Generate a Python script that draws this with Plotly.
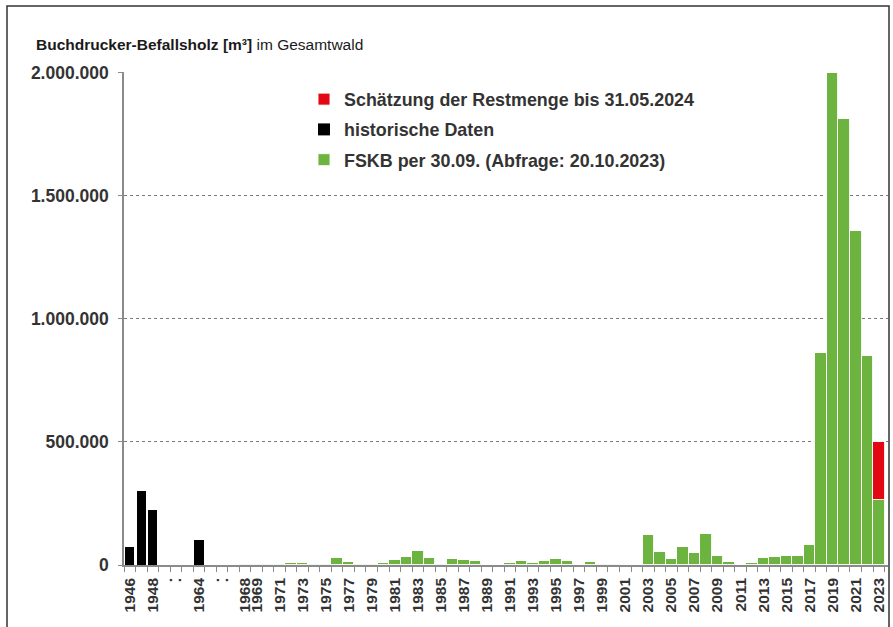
import plotly.graph_objects as go

# ---- data -------------------------------------------------------------
slot_labels = ["1946", "1947", "1948", "", "", "", "1964", "", "", "",
               "1968", "1969", "1970"] + [str(y) for y in range(1971, 2024)]

historic_years = ["1946", "1947", "1948", "1964"]
historic_values = [75000, 300000, 224000, 100000]

fskb_years = [str(y) for y in range(1968, 2024)]
fskb_values = [
    3000, 3000, 3000, 4000, 7000, 7000, 4000, 4000, 30000, 14000,      # 1968-1977
    3000, 3000, 7000, 19000, 31000, 57000, 27000, 3000, 23000, 21000,  # 1978-1987
    16000, 2000, 2000, 7000, 15000, 7000, 16000, 23000, 15000, 2000,   # 1988-1997
    11000, 5000, 5000, 1000, 1000, 122000, 54000, 24000, 74000, 50000, # 1998-2007
    128000, 35000, 11000, 2000, 7000, 27000, 34000, 38000, 38000, 81000,  # 2008-2017
    860000, 2000000, 1812000, 1359000, 848000, 264000                  # 2018-2023
]

estimate_years = ["2023"]
estimate_values = [236000]

tick_labels = ["1946", "1948", ".", ".", "1964", ".", ".", "1968", "1969"] + \
              [str(y) for y in range(1971, 2024, 2)]
tick_slots = [0, 2, 3.25, 4.0, 6, 7.3, 8.1, 10, 11] + \
             [slot_labels.index(str(y)) for y in range(1971, 2024, 2)]

y_ticks = [0, 500000, 1000000, 1500000, 2000000]

# ---- figure -----------------------------------------------------------
FONT = "Liberation Sans, Arial, sans-serif"
W, H = 893, 627
L, R, T, B = 124, 5, 72, 62
PW = W - L - R
PH = H - T - B

def pos(labels):
    return [slot_labels.index(s) for s in labels]

fig = go.Figure()
fig.add_trace(go.Bar(
    x=pos(fskb_years), y=fskb_values, name="FSKB per 30.09. (Abfrage: 20.10.2023)",
    marker=dict(color="#6CB33F", line=dict(color="rgba(255,255,255,0.9)", width=1)),
    width=1.0, legendrank=3, legendgroup="g"))
fig.add_trace(go.Bar(
    x=pos(historic_years), y=historic_values, name="historische Daten",
    marker=dict(color="#000000", line=dict(width=0)),
    width=0.8, legendrank=2, legendgroup="b"))
fig.add_trace(go.Bar(
    x=pos(estimate_years), y=estimate_values, name="Schätzung der Restmenge bis 31.05.2024",
    marker=dict(color="#E30613", line=dict(color="rgba(255,255,255,0.9)", width=1)),
    width=1.0, legendrank=1, legendgroup="r"))

fig.update_layout(
    width=W, height=H,
    margin=dict(l=L, r=R, t=T, b=B, autoexpand=False),
    paper_bgcolor="white", plot_bgcolor="white",
    barmode="stack",
    separators=",.",
    font=dict(family=FONT, color="#333333"),
    title=dict(text="<b>Buchdrucker-Befallsholz [m³]</b> im Gesamtwald",
               x=36 / W, xanchor="left", xref="container",
               y=1 - 45 / H, yanchor="middle", yref="container",
               pad=dict(l=0, r=0, t=0, b=0),
               font=dict(size=15.5, color="#1a1a1a", family=FONT)),
    legend=dict(x=(304 - L) / PW, y=1 - (81 - T) / PH, xanchor="left", yanchor="top",
                bgcolor="rgba(0,0,0,0)", traceorder="grouped", tracegroupgap=4,
                font=dict(size=17.9, color="#333333", family=FONT, weight="bold")),
    showlegend=True,
    bargap=0,
)

fig.update_xaxes(
    range=[-0.5, 65.8], tickmode="array", tickvals=tick_slots, ticktext=tick_labels,
    tickangle=-90, ticks="", ticklabelstandoff=5, automargin=False,
    tickfont=dict(size=15.5, color="#333333", family=FONT, weight="bold"),
    showgrid=False, zeroline=False,
    showline=True, linecolor="#8a8a8a", linewidth=1.5,
    minor=dict(tickmode="linear", tick0=-0.5, dtick=1, ticks="outside",
               ticklen=5, tickcolor="#8a8a8a", tickwidth=1, showgrid=False),
)
fig.update_yaxes(
    range=[0, 2003000], tickmode="array", tickvals=y_ticks, tickformat=",d",
    ticks="outside", ticklen=4, tickcolor="#8a8a8a", automargin=False,
    tickfont=dict(size=17.5, color="#333333", family=FONT, weight="bold"),
    showgrid=True, gridcolor="#7a7a7a", gridwidth=1, griddash="dot",
    zeroline=False, showline=True, linecolor="#8a8a8a", linewidth=1.5,
    ticklabelstandoff=6,
)

# outer frame of the graphic
fig.add_shape(type="rect", xref="paper", yref="paper",
              x0=(7 - L) / PW, x1=(889 - L) / PW,
              y0=(H - T - 700) / PH, y1=1 + (T - 6) / PH,
              line=dict(color="#333333", width=1.5), fillcolor="rgba(0,0,0,0)",
              layer="below")

fig.write_html("out.html",
               config={"displayModeBar": False},
               post_script="document.body.style.margin='0';document.body.style.overflow='hidden';")
